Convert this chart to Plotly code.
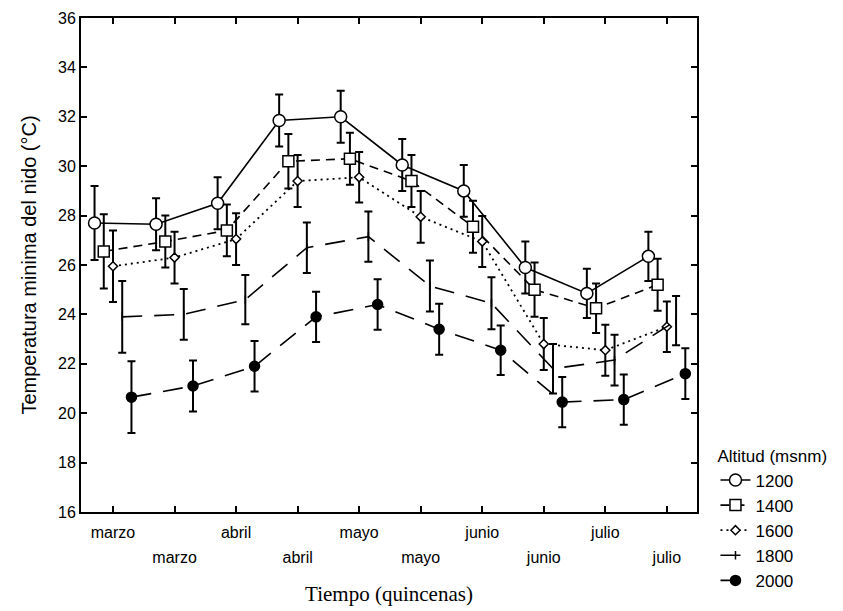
import plotly.graph_objects as go

# ---- data ----
quincenas = ["marzo", "marzo", "abril", "abril", "mayo", "mayo", "junio", "junio", "julio", "julio"]
positions = [1, 2, 3, 4, 5, 6, 7, 8, 9, 10]

altitudes = ["1200", "1400", "1600", "1800", "2000"]
t1200 = [27.7, 27.65, 28.5, 31.85, 32.0, 30.05, 29.0, 25.9, 24.85, 26.35]
t1400 = [26.55, 26.95, 27.4, 30.2, 30.3, 29.4, 27.55, 25.0, 24.25, 25.2]
t1600 = [25.95, 26.3, 27.05, 29.4, 29.55, 27.95, 26.95, 22.8, 22.55, 23.5]
t1800 = [23.9, 24.0, 24.6, 26.7, 27.15, 25.15, 24.45, 21.8, 22.15, 23.75]
t2000 = [20.65, 21.1, 21.9, 23.9, 24.4, 23.4, 22.55, 20.45, 20.55, 21.6]

e1200 = [1.5, 1.05, 1.05, 1.05, 1.05, 1.05, 1.05, 1.05, 1.0, 1.0]
e1400 = [1.5, 1.05, 1.05, 1.1, 1.05, 1.05, 1.05, 1.1, 1.0, 1.05]
e1600 = [1.45, 1.05, 1.05, 1.05, 1.02, 1.05, 1.03, 1.05, 1.03, 1.02]
e1800 = [1.45, 1.03, 1.0, 1.02, 1.02, 1.03, 1.05, 1.0, 1.03, 1.0]
e2000 = [1.45, 1.03, 1.02, 1.02, 1.02, 1.03, 1.0, 1.02, 1.02, 1.03]

offsets = [-0.3, -0.15, 0.0, 0.15, 0.3]

styles = [
    dict(dash="solid", symbol="circle", size=12, fill="white", lw=1.6),
    dict(dash="9px,6px", symbol="square", size=11, fill="white", lw=1.6),
    dict(dash="2px,4px", symbol="diamond", size=7, fill="white", lw=1.8),
    dict(dash="20px,12px", symbol="line-ns", size=6, fill="white", lw=1.6),
    dict(dash="20px,12px", symbol="circle", size=10, fill="black", lw=1.6),
]

series = [t1200, t1400, t1600, t1800, t2000]
errors = [e1200, e1400, e1600, e1800, e2000]

fig = go.Figure()
for name, ys, es, off, st in zip(altitudes, series, errors, offsets, styles):
    fig.add_trace(go.Scatter(
        x=[p + off for p in positions], y=ys, name=name,
        mode="lines+markers",
        line=dict(color="black", width=st["lw"], dash=st["dash"]),
        marker=dict(symbol=st["symbol"], size=st["size"], color=st["fill"],
                    line=dict(color="black", width=1.5)),
        error_y=dict(type="data", array=es, visible=True, color="black",
                     thickness=2, width=4),
    ))

# invisible trace so the overlay axis (second row of month labels) renders
fig.add_trace(go.Scatter(x=[positions[0]], y=[16], xaxis="x2", mode="markers",
                         marker=dict(opacity=0), showlegend=False, hoverinfo="skip"))

even_vals = positions[1::2]

fig.update_layout(
    width=835, height=603,
    margin=dict(l=73, r=146, t=10, b=99, autoexpand=False),
    paper_bgcolor="white", plot_bgcolor="white",
    font=dict(family="Liberation Sans, Arial, sans-serif", size=16, color="black"),
    xaxis=dict(range=[0.48, 10.49], tickvals=positions,
               ticktext=[q if i % 2 == 0 else "" for i, q in enumerate(quincenas)],
               ticks="inside", ticklen=6, tickwidth=1.5, tickcolor="black",
               showline=True, linecolor="black", linewidth=2, mirror="ticks",
               showgrid=False, zeroline=False, automargin=False,
               ticklabelstandoff=5, tickfont=dict(size=16),
               title=dict(text="Tiempo (quincenas)", standoff=46,
                          font=dict(family="Liberation Serif, Times New Roman, serif", size=21))),
    xaxis2=dict(range=[0.48, 10.49], overlaying="x", anchor="y", side="bottom",
                tickvals=even_vals, ticktext=quincenas[1::2],
                ticks="", showline=False, showgrid=False, zeroline=False,
                automargin=False, ticklabelstandoff=34, tickfont=dict(size=16)),
    yaxis=dict(range=[16, 36], dtick=2, ticks="inside", ticklen=6, tickwidth=1.5,
               tickcolor="black", showline=True, linecolor="black", linewidth=2,
               mirror="ticks", showgrid=False, zeroline=False, automargin=False,
               tickfont=dict(size=16),
               title=dict(text="Temperatura minima del nido (°C)", standoff=16,
                          font=dict(size=20))),
    legend=dict(x=1.03, xanchor="left", y=0.145, yanchor="top",
                title=dict(text="Altitud (msnm)", font=dict(size=17)),
                font=dict(size=17), bgcolor="rgba(0,0,0,0)",
                itemwidth=30, tracegroupgap=0),
    showlegend=True,
)

fig.write_html("out.html")
